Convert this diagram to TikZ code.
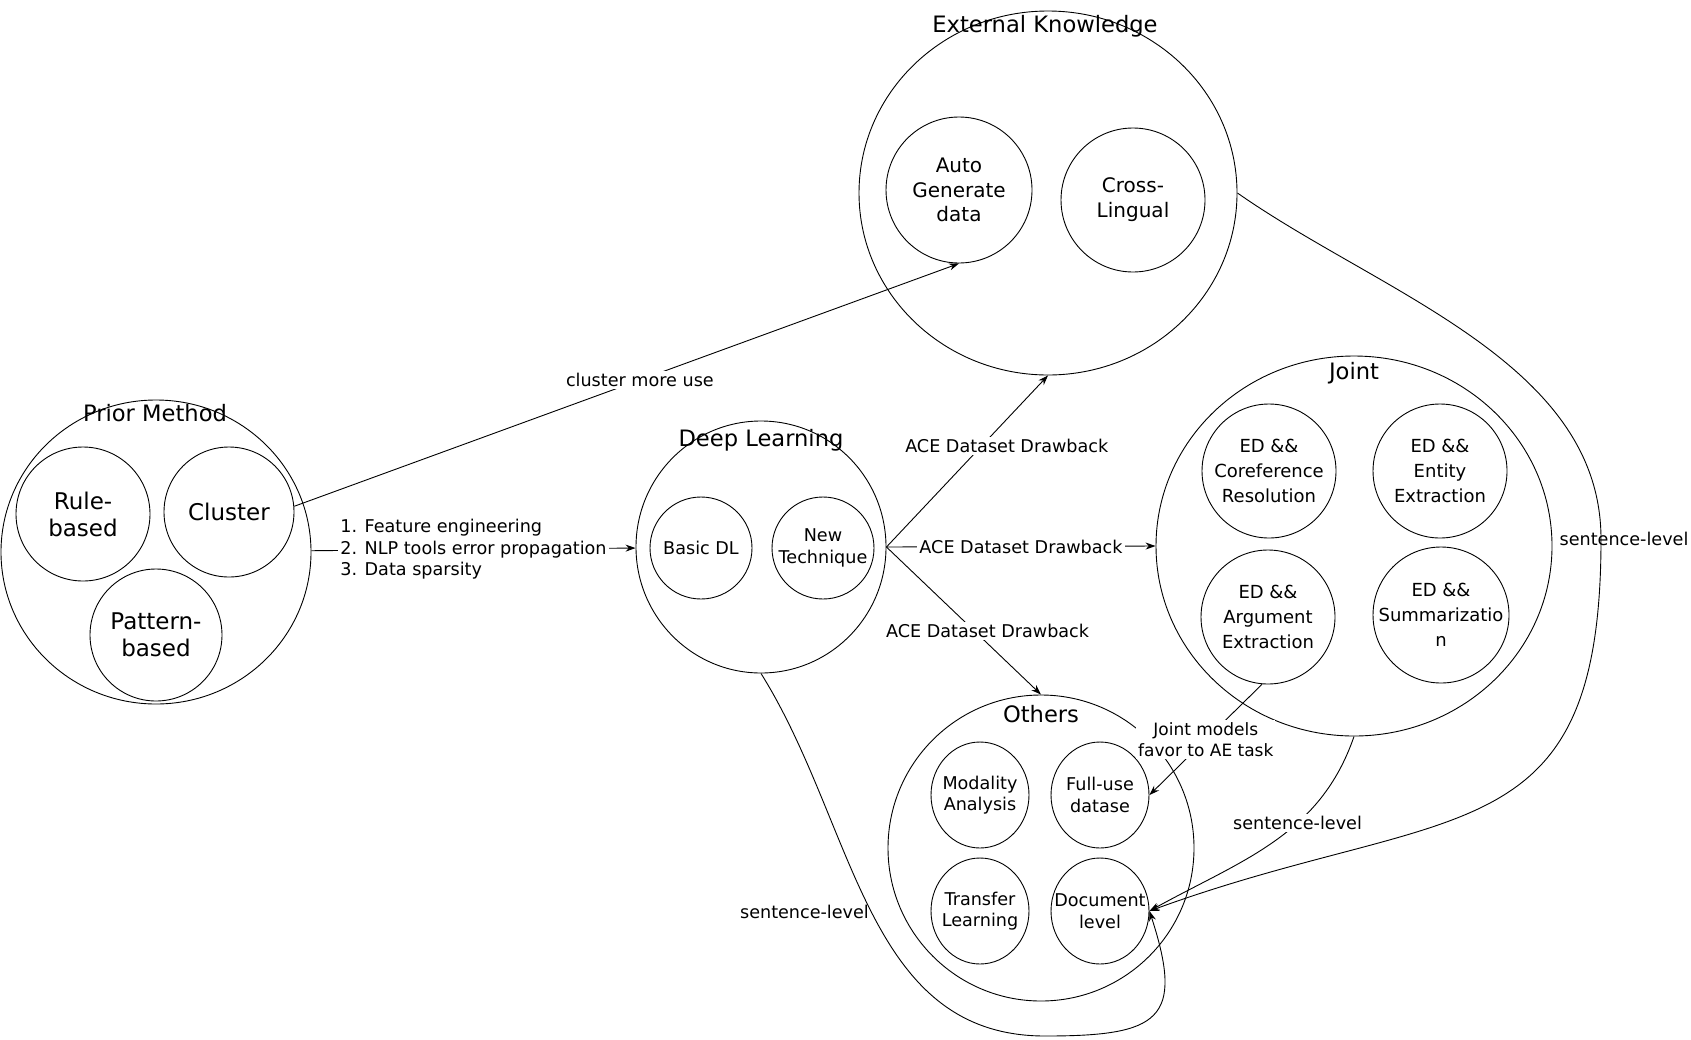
\documentclass[tikz,border=0pt]{standalone}
\usepackage{fontspec}
\setmainfont{DejaVu Sans}
\usetikzlibrary{arrows.meta,shapes.geometric}

\tikzset{
  outer/.style={draw, ellipse, inner sep=0pt},
  incirc/.style={draw, circle, inner sep=0pt, minimum size=#1},
  inoval/.style={draw, ellipse, inner sep=0pt, minimum width=49pt, minimum height=53pt},
  ttl/.style={font=\fontsize{11.3}{13}\selectfont},
  txtA/.style={align=center, font=\fontsize{11.5}{13.5}\selectfont},
  txtB/.style={align=center, font=\fontsize{10}{12.4}\selectfont},
  txtC/.style={align=center, font=\fontsize{9}{12.4}\selectfont},
  txtD/.style={align=center, font=\fontsize{8.8}{10.8}\selectfont},
  elbl/.style={align=center, fill=white, inner sep=1pt, font=\fontsize{8.8}{10.8}\selectfont}
}

\begin{document}
\begin{tikzpicture}[x=0.5pt, y=-0.5pt, line width=0.45pt, >={Stealth[length=5pt, width=3.5pt]}]
          \useasboundingbox (0,0) rectangle (1691,1039);%
          % prior method
          \node[outer, minimum width=155pt, minimum height=152pt] (prior) at (156,552) {};%
          \node[ttl] (priorT) at (155,413) {Prior Method};%
          \node[incirc=67pt, label={[txtA]center:Rule-\\based}] (rule) at (83,514) {};%
          \node[incirc=65pt, label={[txtA]center:Cluster}] (cluster) at (229,512) {};%
          \node[incirc=66pt, label={[txtA]center:Pattern-\\based}] (pattern) at (156,635) {};%
          % deep learning
          \node[outer, minimum width=125pt, minimum height=126pt] (deep) at (761,547) {};%
          \node[ttl] (deepT) at (761,440) {Deep Learning};%
          \node[incirc=51pt, label={[txtD]center:Basic DL}] (basic) at (701,548) {};%
          \node[incirc=51pt, label={[txtD]center:New\\Technique}] (newtech) at (823,548) {};%
          % external knowledge
          \node[outer, minimum width=189pt, minimum height=182pt] (ext) at (1048,193) {};%
          \node[ttl] (extT) at (1045,26) {External Knowledge};%
          \node[incirc=73pt, label={[txtB]center:Auto\\Generate\\data}] (auto) at (959,190) {};%
          \node[incirc=72pt, label={[txtB]center:Cross-\\Lingual}] (cross) at (1133,200) {};%
          % joint
          \node[outer, minimum width=198pt, minimum height=190pt] (joint) at (1354,546) {};%
          \node[ttl] (jointT) at (1354,373) {Joint};%
          \node[incirc=67pt, label={[txtC]center:ED \&\&\\Coreference\\Resolution}] (core) at (1269,471) {};%
          \node[incirc=67pt, label={[txtC]center:ED \&\&\\Entity\\Extraction}] (entity) at (1440,471) {};%
          \node[incirc=67pt, label={[txtC]center:ED \&\&\\Argument\\Extraction}] (arg) at (1268,617) {};%
          \node[incirc=68pt, label={[txtC]center:ED \&\&\\Summarizatio\\n}] (summ) at (1441,615) {};%
          % others
          \node[outer, minimum width=153pt, minimum height=153pt] (others) at (1041,848) {};%
          \node[ttl] (othersT) at (1041,714) {Others};%
          \node[inoval, label={[txtD]center:Modality\\Analysis}] (modal) at (980,795) {};%
          \node[inoval, label={[txtD]center:Full-use\\datase}] (full) at (1100,795) {};%
          \node[inoval, label={[txtD]center:Transfer\\Learning}] (transfer) at (980,911) {};%
          \node[inoval, label={[txtD]center:Document\\level}] (doc) at (1100,911) {};%

          % connectors
          \draw[->] (cluster.5) -- node[elbl, pos=0.52] {cluster more use} (auto.south);%
          \draw[->] (prior) -- node[elbl, align=left] {1. Feature engineering\\2. NLP tools error propagation\\3. Data sparsity} (deep);%
          \draw[->] (deep.east) -- node[elbl, pos=0.59, xshift=12.5pt] {ACE Dataset Drawback} (ext.south);%
          \draw[->] (deep.east) -- node[elbl] {ACE Dataset Drawback} (joint.west);%
          \draw[->] (deep.east) -- node[elbl, pos=0.57, xshift=6.5pt] {ACE Dataset Drawback} (others.north);%
          \draw[->] (arg.265) -- node[elbl, font=\fontsize{8.5}{10.8}\selectfont] {Joint models\\favor to AE task} (full.east);%
          \draw[->] (joint.south) to[out=-109, in=29] node[elbl, pos=0.38] {sentence-level} (doc.east);%

          \coordinate (sbend) at (1601,539);%
          \draw[->] (ext.east) to[out=-35, in=90, looseness=0.9] (sbend) node[elbl, fill=none, xshift=11.5pt] {sentence-level}
                    to[out=-90, in=20, looseness=1.4] (doc.east);%

          \coordinate (loopbot) at (1045,1036);%
          \draw[->] (deep.south) to[out=-58, in=180] node[elbl, fill=none, anchor=east, pos=0.5] {sentence-level} (loopbot)
                    to[out=0, in=-72, looseness=1.8] (doc.east);%
    \end{tikzpicture}
\end{document}
